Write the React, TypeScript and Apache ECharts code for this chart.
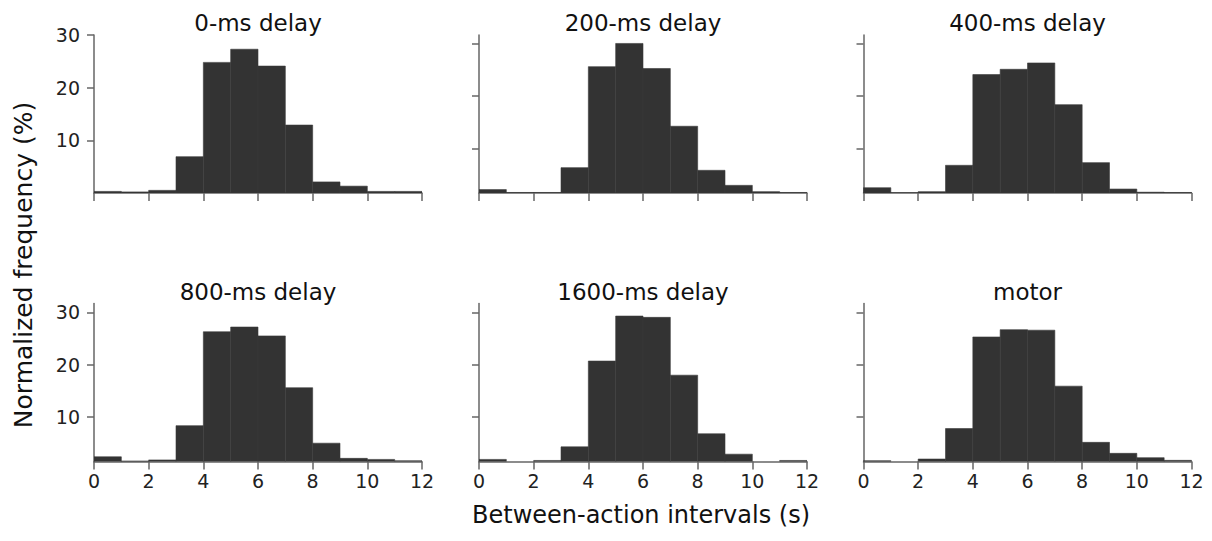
import React, { useEffect, useRef } from "react";
import * as echarts from "echarts";

// ---- data ----
const binEdges = [0, 1, 2, 3, 4, 5, 6, 7, 8, 9, 10, 11, 12];
const xTicks = [0, 2, 4, 6, 8, 10, 12];
const yTicks = [10, 20, 30];
const titles = ["0-ms delay", "200-ms delay", "400-ms delay", "800-ms delay", "1600-ms delay", "motor"];
const delay0 = [0.3, 0.2, 0.5, 6.9, 24.8, 27.3, 24.1, 12.9, 2.1, 1.3, 0.3, 0.3];
const delay200 = [2.3, 1.75, 1.75, 6.45, 25.6, 30.0, 25.25, 14.3, 5.95, 3.1, 1.9, 1.75];
const delay400 = [2.65, 1.7, 1.9, 6.9, 24.1, 25.1, 26.3, 18.4, 7.4, 2.4, 1.8, 1.75];
const delay800 = [2.4, 1.6, 1.8, 8.35, 26.3, 27.2, 25.5, 15.6, 5.0, 2.1, 1.9, 1.65];
const delay1600 = [1.9, 1.5, 1.7, 4.3, 20.7, 29.3, 29.05, 18.0, 6.8, 2.9, 1.5, 1.7];
const motor = [1.66, 1.5, 1.97, 7.8, 25.3, 26.7, 26.6, 15.9, 5.16, 3.06, 2.23, 1.72];
const panelValues = [delay0, delay200, delay400, delay800, delay1600, motor];
const yMins = [0, 1.65, 1.65, 1.5, 1.5, 1.5];
const yMaxs = [30, 31.6, 31.6, 31.7, 31.7, 31.7];
const yAxisTitle = "Normalized frequency (%)";
const xAxisTitle = "Between-action intervals (s)";

// ---- layout ----
const gridLefts = [94, 479, 863.5];
const gridTops = [35, 303.5];
const gridW = 328;
const gridH = 158;
const FONT = "DejaVu Sans";
const AXIS_COLOR = "#666";
const BAR_COLOR = "#333333";

export default function App() {
  const ref = useRef<HTMLDivElement>(null);
  useEffect(() => {
    if (!ref.current) return;
    const chart = echarts.init(ref.current, undefined, { renderer: "svg" });
    const grids: any[] = [];
    const xAxes: any[] = [];
    const yAxes: any[] = [];
    const series: any[] = [];
    const graphics: any[] = [];
    for (let i = 0; i < 6; i++) {
      const row = Math.floor(i / 3);
      const col = i % 3;
      const left = gridLefts[col];
      const top = gridTops[row];
      grids.push({ left, top, width: gridW, height: gridH, containLabel: false });
      xAxes.push({
        type: "value",
        gridIndex: i,
        min: 0,
        max: 12,
        axisLine: { show: true, onZero: false, lineStyle: { color: AXIS_COLOR, width: 1.5 } },
        axisTick: { show: true, length: 8, customValues: xTicks, lineStyle: { color: AXIS_COLOR, width: 1.5 } },
        axisLabel: {
          show: row === 1,
          customValues: xTicks,
          margin: 10,
          color: "#222",
          fontSize: 19,
          fontFamily: FONT,
        },
        splitLine: { show: false },
      });
      yAxes.push({
        type: "value",
        gridIndex: i,
        min: yMins[i],
        max: yMaxs[i],
        axisLine: { show: true, lineStyle: { color: AXIS_COLOR, width: 1.5 } },
        axisTick: { show: true, length: 7, customValues: yTicks, lineStyle: { color: AXIS_COLOR, width: 1.5 } },
        axisLabel: {
          show: col === 0,
          customValues: yTicks,
          margin: 14,
          color: "#222",
          fontSize: 19,
          fontFamily: FONT,
        },
        splitLine: { show: false },
      });
      const vals = panelValues[i];
      const yMin = yMins[i];
      series.push({
        type: "custom",
        xAxisIndex: i,
        yAxisIndex: i,
        clip: true,
        data: vals.map((v, k) => [binEdges[k], binEdges[k + 1], v]),
        renderItem: (params: any, api: any) => {
          const x0 = api.value(0);
          const x1 = api.value(1);
          const v = api.value(2);
          if (v <= yMin) return null;
          const pTop = api.coord([x0, v]);
          const pBot = api.coord([x1, yMin]);
          return {
            type: "rect",
            shape: { x: pTop[0], y: pTop[1], width: pBot[0] - pTop[0], height: pBot[1] - pTop[1] },
            style: { fill: BAR_COLOR, stroke: "#3a3a3a", lineWidth: 0.6 },
          };
        },
      });
      graphics.push({
        type: "text",
        x: left + gridW / 2,
        y: top - 12,
        style: {
          text: titles[i],
          fontSize: 23,
          fontFamily: FONT,
          fill: "#111",
          textAlign: "center",
          textVerticalAlign: "middle",
        },
      });
    }
    graphics.push({
      type: "text",
      x: 23,
      y: 265,
      rotation: Math.PI / 2,
      style: {
        text: yAxisTitle,
        fontSize: 25,
        fontFamily: FONT,
        fill: "#111",
        textAlign: "center",
        textVerticalAlign: "middle",
      },
    });
    graphics.push({
      type: "text",
      x: 641,
      y: 515,
      style: {
        text: xAxisTitle,
        fontSize: 24,
        fontFamily: FONT,
        fill: "#111",
        textAlign: "center",
        textVerticalAlign: "middle",
      },
    });
    chart.setOption({
      animation: false,
      backgroundColor: "#ffffff",
      grid: grids,
      xAxis: xAxes,
      yAxis: yAxes,
      series,
      graphic: graphics,
    });
    return () => chart.dispose();
  }, []);
  return (
    <div
      ref={ref}
      style={{ position: "fixed", left: 0, top: 0, width: 1212, height: 541, background: "#fff" }}
    />
  );
}
